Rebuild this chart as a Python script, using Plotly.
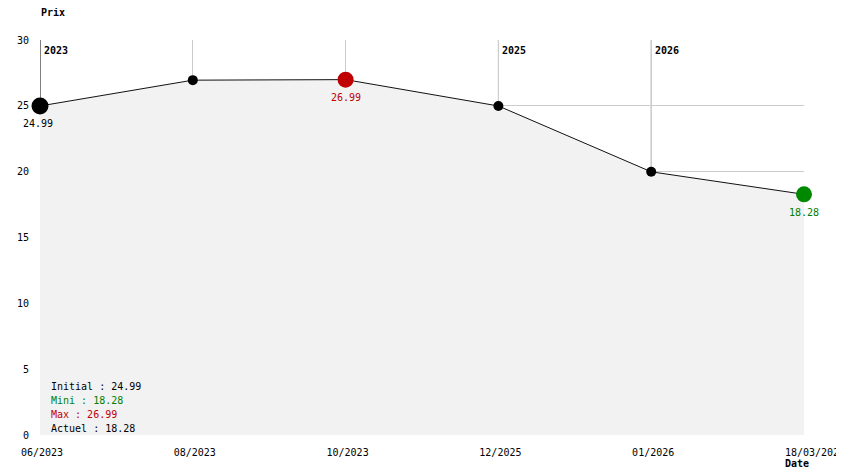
import plotly.graph_objects as go

dates = ["06/2023", "08/2023", "10/2023", "12/2025", "01/2026", "18/03/2026"]
prices = [24.99, 26.95, 26.99, 24.99, 19.99, 18.28]
year_marks = ["2023", "2025", "2026"]
year_pos = [0, 3, 4]
summary_labels = ["Initial : 24.99", "Mini : 18.28", "Max : 26.99", "Actuel : 18.28"]
summary_colors = ["black", "#008000", "#c00000", "black"]

FONT = "DejaVu Sans Mono, Liberation Mono, monospace"
x = list(range(len(dates)))

imax = prices.index(max(prices))
imin = len(prices) - 1
sizes = [10] * len(prices)
colors = ["black"] * len(prices)
sizes[0] = 17
sizes[imax] = 16
colors[imax] = "#c00000"
sizes[imin] = 16
colors[imin] = "#008800"

# last date label sits a little right of its point in the reference
tick_text = list(dates)
tick_text[-1] = "\u00a0\u00a0\u00a0" + tick_text[-1]

# page has an 8px body margin; work in screen pixels and compensate
OFF = 8
W, H = 844 - OFF, 474 - OFF
L, T = 40 - OFF, 40 - OFF
pw, ph = 764, 395
R, B = W - L - pw, H - T - ph


def px(sx):
    return (sx - OFF - L) / pw


def py(sy):
    return 1 - (sy - OFF - T) / ph


fig = go.Figure()
fig.add_trace(go.Scatter(
    x=x, y=prices, mode="lines", line=dict(color="#111", width=1),
    fill="tozeroy", fillcolor="#f2f2f2", hoverinfo="skip", cliponaxis=False))
fig.add_trace(go.Scatter(
    x=x, y=prices, mode="markers",
    marker=dict(size=sizes, color=colors, opacity=1, line=dict(width=0)),
    cliponaxis=False))

for i, c in [(0, "black"), (imax, "#c00000"), (imin, "#008000")]:
    fig.add_annotation(x=x[i], y=prices[i], text=f"{prices[i]:.2f}", showarrow=False,
                       yshift=-18, xshift=-2 if i == 0 else 0, xanchor="center",
                       font=dict(family=FONT, size=10, color=c))

for yp, ym in zip(year_pos, year_marks):
    fig.add_shape(type="line", x0=yp, x1=yp, y0=0, y1=30, xref="x", yref="y",
                  line=dict(color="black" if yp == 0 else "#999", width=1), layer="below")
    fig.add_annotation(x=yp, y=30, text=f"<b>{ym}</b>", showarrow=False,
                       xanchor="left", yanchor="top", xshift=2, yshift=-3,
                       font=dict(family=FONT, size=10, color="black"))

for k, (t, c) in enumerate(zip(summary_labels, summary_colors)):
    fig.add_annotation(x=px(49), y=py(386 + 14 * k), xref="paper", yref="paper", text=t,
                       showarrow=False, xanchor="left", yanchor="middle",
                       font=dict(family=FONT, size=10, color=c))

fig.add_annotation(x=px(797), y=py(463), xref="paper", yref="paper",
                   text="<b>Date</b>", showarrow=False, xanchor="center", yanchor="middle",
                   font=dict(family=FONT, size=10, color="black"))
fig.add_annotation(x=px(53), y=py(12), xref="paper", yref="paper",
                   text="<b>Prix</b>", showarrow=False, xanchor="center", yanchor="middle",
                   font=dict(family=FONT, size=10, color="black"))

fig.update_layout(
    width=W, height=H, margin=dict(l=L, r=R, t=T, b=B, pad=0, autoexpand=False),
    paper_bgcolor="white", plot_bgcolor="white", showlegend=False,
    font=dict(family=FONT, size=10, color="black"),
    xaxis=dict(range=[0, 5], tickvals=x, ticktext=tick_text, showgrid=True,
               gridcolor="#ccc", gridwidth=1, zeroline=False, showline=False,
               ticks="", ticklabelstandoff=10, ticklabelshift=2, fixedrange=True,
               ticklabeloverflow="allow", automargin=False,
               tickfont=dict(family=FONT, size=10, color="black")),
    yaxis=dict(range=[0, 30], tickvals=[0, 5, 10, 15, 20, 25, 30], showgrid=True,
               gridcolor="#ccc", gridwidth=1, zeroline=False, showline=False,
               ticks="", ticklabelstandoff=10, fixedrange=True, automargin=False,
               tickfont=dict(family=FONT, size=10, color="black")),
)
fig.write_html("out.html")
